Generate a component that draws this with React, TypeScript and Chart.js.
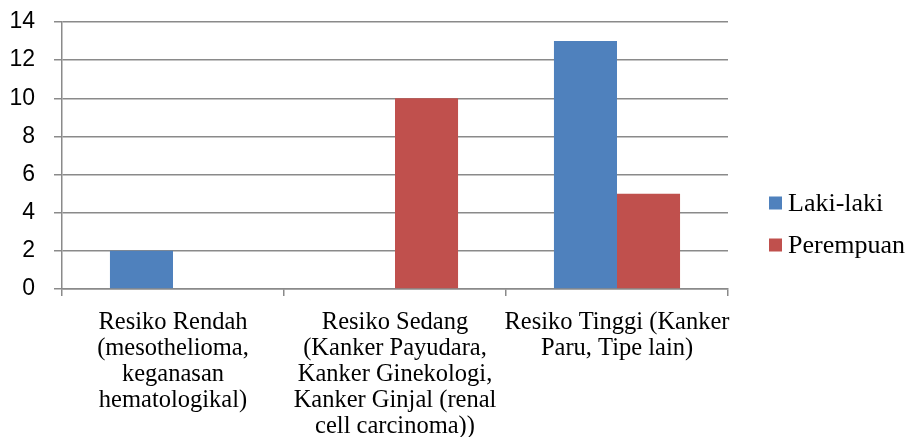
import React, { useEffect, useRef } from "react";
import { Chart, registerables } from "chart.js";

Chart.register(...registerables);

const categories: string[][] = [
  ["Resiko Rendah", "(mesothelioma,", "keganasan", "hematologikal)"],
  ["Resiko Sedang", "(Kanker Payudara,", "Kanker Ginekologi,", "Kanker Ginjal (renal", "cell carcinoma))"],
  ["Resiko Tinggi (Kanker", "Paru, Tipe lain)"],
];
const seriesNames = ["Laki-laki", "Perempuan"];
const lakiLaki = [2, 0, 13];
const perempuan = [0, 10, 5];
const yMin = 0;
const yMax = 14;
const yStep = 2;

const COLORS = ["#4F81BD", "#C0504D"];
const GRID = "#8a8a8a";
const SERIF = "'Liberation Serif', 'Times New Roman', serif";
const SANS = "'Liberation Sans', Arial, sans-serif";

// Legend to the right of the plot: small square swatch, serif label.
const sideLegend = {
  id: "sideLegend",
  afterDraw(chart: any) {
    const { ctx, chartArea } = chart;
    const x = chartArea.right + 41;
    const yStart = chartArea.top + 181;
    const rowGap = 42;
    ctx.save();
    ctx.font = `26px ${SERIF}`;
    ctx.textBaseline = "middle";
    ctx.textAlign = "left";
    chart.data.datasets.forEach((ds: any, i: number) => {
      const cy = yStart + i * rowGap;
      ctx.fillStyle = ds.backgroundColor;
      ctx.fillRect(x, cy - 6.5, 13, 13);
      ctx.fillStyle = "#000";
      ctx.fillText(ds.label, x + 19, cy + 1);
    });
    ctx.restore();
  },
};

export default function App() {
  const canvasRef = useRef<HTMLCanvasElement | null>(null);

  useEffect(() => {
    const canvas = canvasRef.current;
    if (!canvas) return;
    const chart = new Chart(canvas, {
      type: "bar",
      data: {
        labels: categories,
        datasets: [
          { label: seriesNames[0], data: lakiLaki, backgroundColor: COLORS[0], borderWidth: 0 },
          { label: seriesNames[1], data: perempuan, backgroundColor: COLORS[1], borderWidth: 0 },
        ],
      },
      options: {
        animation: false,
        responsive: false,
        maintainAspectRatio: false,
        layout: { padding: { left: 0, top: 22, right: 181, bottom: 0 } },
        datasets: {
          bar: { categoryPercentage: 0.568, barPercentage: 1 },
        },
        plugins: {
          tooltip: { enabled: false },
          legend: { display: false },
        },
        scales: {
          x: {
            grid: {
              display: true,
              offset: true,
              drawOnChartArea: false,
              drawTicks: true,
              tickLength: 7,
              color: GRID,
              lineWidth: 1.5,
            },
            border: { color: GRID, width: 1.5 },
            ticks: {
              color: "#000",
              maxRotation: 0,
              minRotation: 0,
              autoSkip: false,
              padding: 13,
              font: { family: SERIF, size: 24.5, lineHeight: 1.07 },
            },
            afterFit: (s: any) => {
              s.height = 148;
              s.paddingLeft = 0;
              s.paddingRight = 0;
            },
          },
          y: {
            min: yMin,
            max: yMax,
            grid: {
              color: GRID,
              lineWidth: 1.5,
              tickLength: 8,
            },
            border: { color: GRID, width: 1.5 },
            ticks: {
              stepSize: yStep,
              color: "#000",
              padding: 19,
              font: { family: SANS, size: 23 },
            },
            afterFit: (s: any) => {
              s.width = 62;
              s.paddingTop = 0;
              s.paddingBottom = 0;
            },
          },
        },
      },
      plugins: [sideLegend],
    });
    return () => chart.destroy();
  }, []);

  return (
    <div style={{ position: "fixed", left: 0, top: 0, width: 909, height: 437, background: "#fff" }}>
      <canvas ref={canvasRef} width={909} height={437} style={{ display: "block" }} />
    </div>
  );
}
